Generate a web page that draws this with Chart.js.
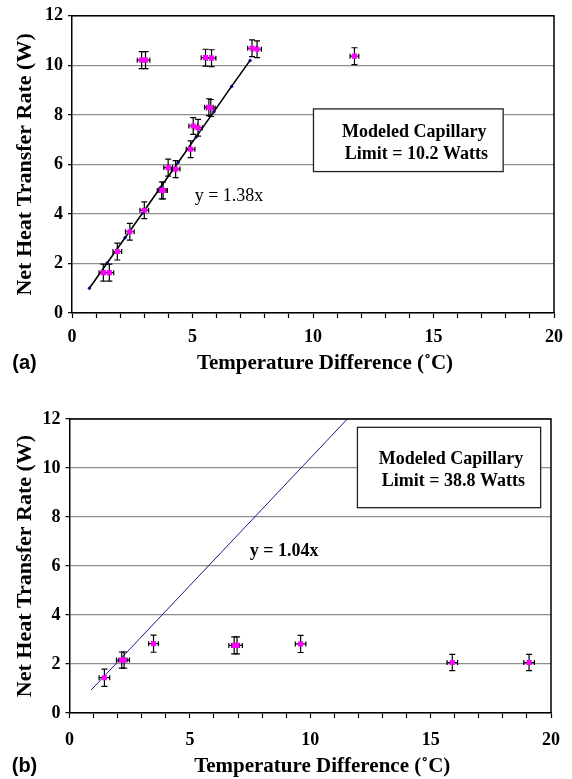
<!DOCTYPE html>
<html>
<head>
<meta charset="utf-8">
<script src="https://cdn.jsdelivr.net/npm/chart.js@4/dist/chart.umd.min.js"></script>
<style>
html, body { margin: 0; padding: 0; background: #fff; }
#wrapA { position: absolute; left: 0; top: 0; width: 572px; height: 392px; }
#wrapB { position: absolute; left: 0; top: 392px; width: 572px; height: 387px; }
</style>
</head>
<body>
<div id="wrapA"><canvas id="chartA"></canvas></div>
<div id="wrapB"><canvas id="chartB"></canvas></div>
<script>
// panel (a) measurements
var aTempDiff = [1.30, 1.55, 1.88, 2.40, 3.00, 3.72, 3.78, 3.99, 4.30, 4.92, 5.03, 5.23, 5.68, 5.76, 2.89, 3.05, 5.54, 5.79, 7.47, 7.68, 11.72];
var aHeatRate = [1.63, 1.63, 2.48, 3.28, 4.15, 4.95, 4.95, 5.87, 5.81, 6.61, 7.55, 7.48, 8.31, 8.28, 10.21, 10.21, 10.31, 10.29, 10.69, 10.65, 10.37];
var aTempErr  = [0.18, 0.18, 0.18, 0.18, 0.18, 0.18, 0.18, 0.18, 0.18, 0.18, 0.18, 0.18, 0.18, 0.18, 0.18, 0.18, 0.18, 0.18, 0.18, 0.18, 0.18];
var aHeatErr  = [0.34, 0.34, 0.34, 0.34, 0.34, 0.34, 0.34, 0.34, 0.34, 0.34, 0.34, 0.34, 0.34, 0.34, 0.34, 0.34, 0.34, 0.34, 0.34, 0.34, 0.34];
// panel (a) linear fit y = 1.38x
var aFitX = [0.72, 1.46, 2.20, 2.93, 3.67, 4.41, 5.15, 5.89, 6.62, 7.39];
var aFitY = [1.00, 2.02, 3.04, 4.04, 5.07, 6.09, 7.11, 8.13, 9.15, 10.20];

// panel (b) measurements
var bTempDiff = [1.45, 2.17, 2.27, 3.49, 6.84, 6.96, 9.60, 15.90, 19.09];
var bHeatRate = [1.44, 2.16, 2.16, 2.83, 2.76, 2.76, 2.82, 2.06, 2.06];
var bTempErr  = [0.22, 0.22, 0.22, 0.20, 0.22, 0.22, 0.22, 0.22, 0.22];
var bHeatErr  = [0.35, 0.33, 0.33, 0.35, 0.35, 0.35, 0.35, 0.33, 0.33];
// panel (b) linear fit y = 1.04x
var bFitX = [0.90, 11.54];
var bFitY = [0.94, 12.00];

var yTicks = [0, 2, 4, 6, 8, 10, 12];
var xLabelEvery = 5;

var serif = "'Liberation Serif', 'Times New Roman', serif";

function buildPanel(id, cfg) {
  var points = cfg.x.map(function (v, i) { return { x: v, y: cfg.y[i] }; });
  var fit = cfg.fitX.map(function (v, i) { return { x: v, y: cfg.fitY[i] }; });

  var extras = {
    id: 'extras' + id,
    beforeDatasetDraw: function (chart, args) {
      if (args.index !== 0) return;
      var ctx = chart.ctx, xs = chart.scales.x, ys = chart.scales.y;
      ctx.save();
      ctx.strokeStyle = '#000';
      ctx.lineWidth = 1.2;
      for (var i = 0; i < cfg.x.length; i++) {
        var px = xs.getPixelForValue(cfg.x[i]);
        var py = ys.getPixelForValue(cfg.y[i]);
        var y1 = ys.getPixelForValue(cfg.y[i] + cfg.yErr[i]);
        var y2 = ys.getPixelForValue(cfg.y[i] - cfg.yErr[i]);
        var x1 = xs.getPixelForValue(cfg.x[i] - cfg.xErr[i]);
        var x2 = xs.getPixelForValue(cfg.x[i] + cfg.xErr[i]);
        ctx.beginPath();
        ctx.moveTo(px, y1); ctx.lineTo(px, y2);
        ctx.moveTo(px - 3, y1); ctx.lineTo(px + 3, y1);
        ctx.moveTo(px - 3, y2); ctx.lineTo(px + 3, y2);
        ctx.moveTo(x1, py); ctx.lineTo(x2, py);
        ctx.moveTo(x1, py - 2.5); ctx.lineTo(x1, py + 2.5);
        ctx.moveTo(x2, py - 2.5); ctx.lineTo(x2, py + 2.5);
        ctx.stroke();
      }
      ctx.restore();
    },
    afterDraw: function (chart) {
      var ctx = chart.ctx, a = chart.chartArea, xs = chart.scales.x, ys = chart.scales.y;
      ctx.save();
      // top and right frame
      ctx.strokeStyle = '#000';
      ctx.lineWidth = 1.5;
      ctx.beginPath();
      ctx.moveTo(a.left, a.top); ctx.lineTo(a.right, a.top); ctx.lineTo(a.right, a.bottom);
      ctx.stroke();

      // text box
      var bx0 = xs.getPixelForValue(cfg.box.x0), bx1 = xs.getPixelForValue(cfg.box.x1);
      var by0 = ys.getPixelForValue(cfg.box.y0), by1 = ys.getPixelForValue(cfg.box.y1);
      ctx.fillStyle = '#fff';
      ctx.fillRect(bx0, by0, bx1 - bx0, by1 - by0);
      ctx.strokeStyle = '#222';
      ctx.lineWidth = 1.3;
      ctx.strokeRect(bx0, by0, bx1 - bx0, by1 - by0);
      ctx.fillStyle = '#000';
      ctx.font = 'bold 18px ' + serif;
      ctx.textAlign = 'center';
      ctx.textBaseline = 'middle';
      for (var i = 0; i < cfg.box.lines.length; i++) {
        ctx.fillText(cfg.box.lines[i], xs.getPixelForValue(cfg.box.tx), ys.getPixelForValue(cfg.box.ty[i]));
      }

      // fit equation
      ctx.font = (cfg.fitBold ? 'bold ' : '') + '18px ' + serif;
      ctx.textAlign = 'left';
      ctx.fillText(cfg.fitLabel, xs.getPixelForValue(cfg.fitLabelAt[0]), ys.getPixelForValue(cfg.fitLabelAt[1]));

      // x axis title
      ctx.font = 'bold 21px ' + serif;
      ctx.textAlign = 'center';
      ctx.fillText('Temperature Difference (\u02DAC)', (a.left + a.right) / 2 + 12, cfg.titleY);

      // panel letter
      ctx.font = "bold 20px 'Liberation Sans', Arial, sans-serif";
      ctx.fillText(cfg.letter, 24.5, cfg.titleY - 1);
      ctx.restore();
    }
  };

  return new Chart(document.getElementById(id), {
    type: 'scatter',
    data: {
      datasets: [
        {
          label: 'Measured',
          data: points,
          pointStyle: 'rect',
          pointRadius: 3.6,
          pointBackgroundColor: '#ff00ff',
          pointBorderWidth: 0,
          showLine: false
        },
        {
          label: 'Fit',
          data: fit,
          showLine: true,
          borderColor: cfg.fitColor,
          borderWidth: cfg.fitWidth,
          pointStyle: 'rectRot',
          pointRadius: cfg.fitMarkers ? 2 : 0,
          pointBackgroundColor: '#000080',
          pointBorderColor: '#000080',
          pointBorderWidth: 0
        }
      ]
    },
    options: {
      responsive: true,
      maintainAspectRatio: false,
      animation: false,
      layout: { padding: cfg.padding },
      plugins: { legend: { display: false }, tooltip: { enabled: false } },
      scales: {
        x: {
          type: 'linear',
          min: 0, max: 20,
          afterFit: function (s) { s.height = cfg.xHeight; },
          grid: { drawOnChartArea: false, drawTicks: true, tickLength: 5, tickColor: '#000', tickWidth: 1.2 },
          border: { display: true, color: '#000', width: 1.5 },
          ticks: {
            stepSize: 1, autoSkip: false, maxRotation: 0, padding: cfg.tickPad,
            color: '#000', font: { family: serif, size: 18, weight: 'bold' },
            callback: function (v) { return v % xLabelEvery === 0 ? String(v) : ''; }
          }
        },
        y: {
          type: 'linear',
          min: 0, max: 12,
          afterFit: function (s) { s.width = cfg.yWidth; },
          afterBuildTicks: function (s) { s.ticks = yTicks.map(function (v) { return { value: v }; }); },
          grid: { color: '#8c8c8c', lineWidth: 1.3, drawTicks: true, tickLength: 4, tickColor: '#000', tickWidth: 1.2 },
          border: { display: true, color: '#000', width: 1.5 },
          ticks: {
            padding: 5, color: '#000', font: { family: serif, size: 18, weight: 'bold' }
          },
          title: {
            display: true, text: 'Net Heat Transfer Rate (W)', color: '#000',
            font: { family: serif, size: 22, weight: 'bold' }, padding: { top: 12, bottom: 0 }
          }
        }
      }
    },
    plugins: [extras]
  });
}

buildPanel('chartA', {
  x: aTempDiff, y: aHeatRate, xErr: aTempErr, yErr: aHeatErr,
  fitX: aFitX, fitY: aFitY, fitColor: '#000', fitWidth: 1.6, fitMarkers: true,
  fitLabel: 'y = 1.38x', fitBold: false, fitLabelAt: [5.09, 4.71],
  box: { x0: 10.02, x1: 17.89, y0: 8.24, y1: 5.71, tx: 14.2, ty: [7.31, 6.41],
         lines: ['Modeled Capillary', ' Limit = 10.2 Watts'] },
  padding: { left: 0, right: 17, top: 13, bottom: 0 },
  xHeight: 79, yWidth: 72, titleY: 364, letter: '(a)', tickPad: 9
});

buildPanel('chartB', {
  x: bTempDiff, y: bHeatRate, xErr: bTempErr, yErr: bHeatErr,
  fitX: bFitX, fitY: bFitY, fitColor: '#1a1a8c', fitWidth: 1, fitMarkers: false,
  fitLabel: 'y = 1.04x', fitBold: true, fitLabelAt: [7.49, 6.59],
  box: { x0: 11.96, x1: 19.57, y0: 11.66, y1: 8.38, tx: 15.85, ty: [10.35, 9.47],
         lines: ['Modeled Capillary', ' Limit = 38.8 Watts'] },
  padding: { left: 0, right: 19, top: 27, bottom: 0 },
  xHeight: 66, yWidth: 69.5, titleY: 375, letter: '(b)', tickPad: 12
});
</script>
</body>
</html>
